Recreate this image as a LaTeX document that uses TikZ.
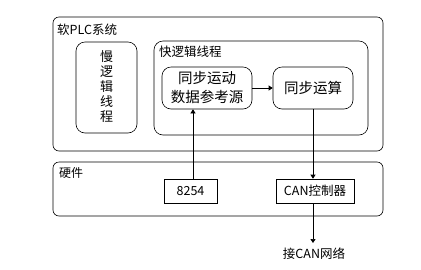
\documentclass[tikz,border=0pt]{standalone}
\usepackage{fontspec}
\newfontfamily\cjk{Noto Sans CJK SC}
\usetikzlibrary{arrows.meta}
\begin{document}
\begin{tikzpicture}[x=1pt,y=-1pt,
  frame/.style={draw,line width=0.6pt,rounded corners=6pt},
  inner/.style={draw,line width=0.6pt,rounded corners=9pt},
  hw/.style={draw,line width=0.6pt,inner sep=0pt},
  lbl/.style={font=\cjk\fontsize{12.5}{14}\selectfont,anchor=west,inner sep=0pt},
  txt/.style={font=\cjk\fontsize{14.5}{19}\selectfont,align=center},
  small/.style={font=\cjk\fontsize{12.5}{14}\selectfont},
  arr/.style={line width=0.6pt,-{Triangle[length=4pt,width=5pt]}}]
\useasboundingbox (0,0) rectangle (421,269);
\fill[white] (0,0) rectangle (421,269);
% outer soft PLC box
\draw[frame] (53,17) rectangle (383,151);
\node[lbl] (softlbl) at (57,30) {软PLC系统};
% slow logic thread
\draw[inner] (76,42) rectangle (137,133);
\node[txt,font=\cjk\fontsize{13}{15}\selectfont,inner sep=0pt] (slow) at (106.5,87) {慢\\逻\\辑\\线\\程};
% fast logic thread
\draw[inner] (154,41) rectangle (368,135);
\node[lbl] (fastlbl) at (159,52) {快逻辑线程};
\node[inner,txt,minimum width=90pt,minimum height=42pt,inner sep=0pt] (src) at (207,88) {同步运动\\数据参考源};
\node[inner,txt,minimum width=80pt,minimum height=42pt,inner sep=0pt] (calc) at (313,88) {同步运算};
\draw[arr] (src) -- (calc);
% hardware box
\draw[frame] (53,162) rectangle (383,216);
\node[lbl,font=\cjk\fontsize{12}{14}\selectfont] (hwlbl) at (59,173) {硬件};
\node[hw,small,minimum width=53pt,minimum height=24pt] (timer) at (190.5,191) {8254};
\node[hw,small,minimum width=78pt,minimum height=24pt] (can) at (315,191) {CAN控制器};
\node[small,inner sep=0pt] (net) at (314,254) {接CAN网络};
\coordinate (netin) at (313,243);
\draw[arr] (timer.north -| 193,0) -- (src.south -| 193,0);
\draw[arr] (calc.south) -- (calc.south |- can.north);
\draw[arr] (can.south -| calc.south) -- (netin);
\end{tikzpicture}
\end{document}
